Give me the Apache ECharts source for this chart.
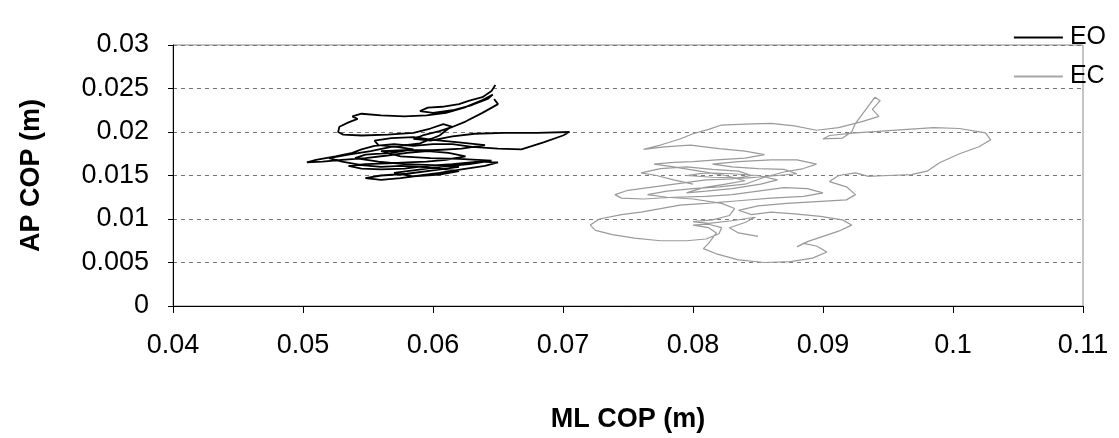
<!DOCTYPE html>
<html><head><meta charset="utf-8">
<script src="https://cdn.jsdelivr.net/npm/echarts@6/dist/echarts.min.js"></script>
<style>html,body{margin:0;padding:0;background:#fff}#c{width:1119px;height:438px}</style>
</head><body><div id="c"></div>
<script>
const seriesNames = ['EO', 'EC'];
const xTickLabels = ['0.04','0.05','0.06','0.07','0.08','0.09','0.1','0.11'];
const yTickLabels = ['0','0.005','0.01','0.015','0.02','0.025','0.03'];
const eoX = [0.0648,0.0645,0.0638,0.0628,0.0620,0.0607,0.0596,0.0590,0.0600,0.0615,0.0630,0.0642,0.0646,0.0637,0.0624,0.0610,0.0595,0.0578,0.0560,0.0545,0.0538,0.0542,0.0535,0.0528,0.0527,0.0531,0.0545,0.0565,0.0585,0.0598,0.0608,0.0615,0.0605,0.0592,0.0585,0.0598,0.0615,0.0632,0.0655,0.0680,0.0705,0.0700,0.0685,0.0668,0.0650,0.0630,0.0615,0.0600,0.0585,0.0570,0.0555,0.0545,0.0538,0.0525,0.0510,0.0503,0.0515,0.0530,0.0548,0.0565,0.0580,0.0596,0.0612,0.0625,0.0610,0.0595,0.0580,0.0565,0.0548,0.0535,0.0545,0.0560,0.0578,0.0595,0.0615,0.0635,0.0650,0.0640,0.0622,0.0605,0.0590,0.0575,0.0560,0.0548,0.0560,0.0580,0.0600,0.0620,0.0600,0.0578,0.0558,0.0540,0.0548,0.0568,0.0585,0.0572,0.0558,0.0555,0.0568,0.0585,
  0.0600,0.0620,0.0640,0.0622,0.0600,0.0578,0.0560,0.0575,0.0598,0.0620,0.0645,0.0628,0.0605,0.0585,0.0570,0.0585,0.0605,0.0620,0.0605,0.0590,0.0575,0.0560,0.0545,0.0530,0.0520,0.0535,0.0552,0.0568,0.0590,0.0605,0.0612,0.0625,0.0638,0.0650,0.0647];
const eoY = [0.0254,0.0247,0.0240,0.0236,0.0232,0.0229,0.0228,0.0224,0.0222,0.0225,0.0231,0.0238,0.0243,0.0236,0.0228,0.0222,0.0219,0.0218,0.0219,0.0221,0.0218,0.0215,0.0211,0.0206,0.0200,0.0197,0.0196,0.0197,0.0199,0.0204,0.0209,0.0206,0.0201,0.0196,0.0192,0.0190,0.0195,0.0198,0.0199,0.0199,0.0200,0.0196,0.0188,0.0180,0.0181,0.0183,0.0186,0.0186,0.0184,0.0186,0.0184,0.0180,0.0176,0.0172,0.0168,0.0165,0.0166,0.0168,0.0170,0.0173,0.0176,0.0178,0.0176,0.0172,0.0168,0.0166,0.0165,0.0164,0.0163,0.0161,0.0158,0.0157,0.0158,0.0161,0.0163,0.0166,0.0165,0.0161,0.0157,0.0153,0.0150,0.0147,0.0145,0.0147,0.0150,0.0152,0.0156,0.0160,0.0162,0.0163,0.0166,0.0170,0.0174,0.0176,0.0180,0.0183,0.0185,0.0190,0.0193,0.0194,
  0.0191,0.0188,0.0185,0.0181,0.0179,0.0179,0.0178,0.0172,0.0170,0.0169,0.0167,0.0163,0.0160,0.0156,0.0153,0.0149,0.0151,0.0155,0.0158,0.0160,0.0161,0.0160,0.0162,0.0166,0.0170,0.0174,0.0178,0.0183,0.0187,0.0196,0.0204,0.0212,0.0222,0.0232,0.0238];
const ecX = [0.0800,0.0785,0.0772,0.0760,0.0775,0.0795,0.0815,0.0835,0.0845,0.0830,0.0810,0.0790,0.0770,0.0750,0.0740,0.0745,0.0762,0.0785,0.0810,0.0830,0.0850,0.0870,0.0888,0.0900,0.0885,0.0860,0.0835,0.0810,0.0790,0.0775,0.0760,0.0745,0.0728,0.0721,0.0725,0.0738,0.0755,0.0775,0.0795,0.0810,0.0820,0.0822,0.0812,0.0800,0.0812,0.0818,0.0812,0.0808,0.0818,0.0835,0.0855,0.0875,0.0892,0.0903,0.0895,0.0885,0.0880,0.0888,0.0900,0.0912,0.0922,0.0915,0.0898,0.0878,0.0860,0.0845,0.0835,0.0850,0.0872,0.0895,0.0918,0.0925,0.0918,0.0905,0.0912,0.0925,0.0935,0.0950,0.0968,0.0980,0.0990,0.1005,0.1020,0.1029,0.1025,0.1005,0.0985,0.0965,0.0945,0.0925,0.0905,0.0900,0.0915,0.0922,0.0925,0.0930,0.0935,0.0940,0.0944,0.0938,0.0943,0.0930,0.0912,0.0895,0.0878,0.0860,0.0840,0.0822,0.0812,0.0800,0.0790,0.0775,0.0762,0.0778,0.0798,0.0820,0.0840,0.0855,0.0840,0.0818,0.0800,0.0785,0.0770,0.0785,0.0805,0.0825,0.0840,0.0825,0.0808,0.0795,0.0810,
  0.0830,0.0852,0.0865,0.0850,0.0830,0.0810,0.0795,0.0815,0.0840,0.0865,0.0880,0.0870,0.0850,0.0830,0.0815,0.0835,0.0860,0.0880,0.0895,0.0885,0.0870,0.0855,0.0840,0.0820,0.0800,0.0780,0.0765,0.0780,0.0800,0.0822,0.0832,0.0828,0.0815,0.0800,0.0812,0.0830,0.0848,0.0840,0.0828,0.0835,0.0850];
const ecY = [0.0140,0.0145,0.0150,0.0153,0.0158,0.0160,0.0157,0.0155,0.0150,0.0146,0.0145,0.0141,0.0137,0.0133,0.0128,0.0124,0.0123,0.0125,0.0126,0.0128,0.0132,0.0136,0.0135,0.0130,0.0126,0.0124,0.0121,0.0118,0.0116,0.0112,0.0108,0.0105,0.0100,0.0093,0.0087,0.0082,0.0078,0.0075,0.0075,0.0077,0.0083,0.0090,0.0094,0.0093,0.0090,0.0084,0.0072,0.0066,0.0060,0.0053,0.0050,0.0051,0.0055,0.0062,0.0069,0.0072,0.0068,0.0074,0.0080,0.0086,0.0093,0.0099,0.0103,0.0106,0.0108,0.0105,0.0110,0.0115,0.0118,0.0120,0.0122,0.0128,0.0137,0.0143,0.0150,0.0153,0.0149,0.0150,0.0151,0.0155,0.0165,0.0175,0.0183,0.0191,0.0199,0.0204,0.0205,0.0203,0.0201,0.0199,0.0196,0.0192,0.0193,0.0200,0.0210,0.0220,0.0230,0.0240,0.0236,0.0226,0.0218,0.0212,0.0205,0.0202,0.0207,0.0210,0.0209,0.0208,0.0203,0.0198,0.0192,0.0185,0.0180,0.0183,0.0185,0.0181,0.0178,0.0174,0.0170,0.0168,0.0166,0.0165,0.0163,0.0160,0.0155,0.0150,0.0144,0.0140,0.0136,0.0130,0.0132,
  0.0135,0.0140,0.0145,0.0150,0.0152,0.0153,0.0150,0.0148,0.0147,0.0150,0.0152,0.0157,0.0158,0.0160,0.0163,0.0166,0.0168,0.0168,0.0163,0.0158,0.0154,0.0148,0.0140,0.0137,0.0135,0.0132,0.0128,0.0125,0.0123,0.0118,0.0112,0.0104,0.0099,0.0097,0.0095,0.0098,0.0102,0.0096,0.0090,0.0084,0.0080];

const pairs = (xs, ys) => xs.map((x, i) => [x, ys[i]]);
const fmt = (list) => (v) => { const s = String(+v.toFixed(3)); return list.indexOf(s) >= 0 ? s : ''; };
const FONT = 'Liberation Sans, Arial, sans-serif';

const chart = echarts.init(document.getElementById('c'), null, {renderer: 'canvas'});
chart.setOption({
  animation: false,
  backgroundColor: '#fff',
  grid: {left: 173, right: 36, top: 45, bottom: 131, show: true, borderColor: '#8a8a8a', borderWidth: 1},
  legend: {
    orient: 'vertical', right: 8, top: 20, itemGap: 14,
    itemWidth: 49, itemHeight: 2, icon: 'rect',
    textStyle: {fontFamily: FONT, fontSize: 25, color: '#000', padding: [0, 0, 0, 2]},
    data: [{name: seriesNames[0], itemStyle: {color: '#000'}}, {name: seriesNames[1], itemStyle: {color: '#a8a8a8'}}]
  },
  xAxis: {
    type: 'value', min: 0.04, max: 0.11, interval: 0.01,
    name: 'ML COP (m)', nameLocation: 'middle', nameGap: 100,
    nameTextStyle: {fontFamily: FONT, fontSize: 27, fontWeight: 'bold', color: '#000'},
    axisLine: {show: true, lineStyle: {color: '#000', width: 1}},
    axisTick: {show: true, inside: false, length: 7, lineStyle: {color: '#000'}},
    axisLabel: {fontFamily: FONT, fontSize: 27, color: '#000', margin: 26, formatter: fmt(xTickLabels)},
    splitLine: {show: false}
  },
  yAxis: {
    type: 'value', min: 0, max: 0.03, interval: 0.005,
    name: 'AP COP (m)', nameLocation: 'middle', nameGap: 128, nameRotate: 90,
    nameTextStyle: {fontFamily: FONT, fontSize: 27, fontWeight: 'bold', color: '#000'},
    axisLine: {show: true, lineStyle: {color: '#000', width: 1}},
    axisTick: {show: true, inside: false, length: 5, lineStyle: {color: '#000'}},
    axisLabel: {fontFamily: FONT, fontSize: 27, color: '#000', margin: 24, formatter: fmt(yTickLabels)},
    splitLine: {show: true, lineStyle: {color: '#777', type: [4, 4], width: 1}}
  },
  series: [
    {name: seriesNames[0], type: 'line', data: pairs(eoX, eoY), showSymbol: false, symbol: 'none',
     lineStyle: {color: '#000', width: 1.8}, itemStyle: {color: '#000'}, z: 3},
    {name: seriesNames[1], type: 'line', data: pairs(ecX, ecY), showSymbol: false, symbol: 'none',
     lineStyle: {color: '#9a9a9a', width: 1.2}, itemStyle: {color: '#a8a8a8'}, z: 2}
  ]
});
</script></body></html>
